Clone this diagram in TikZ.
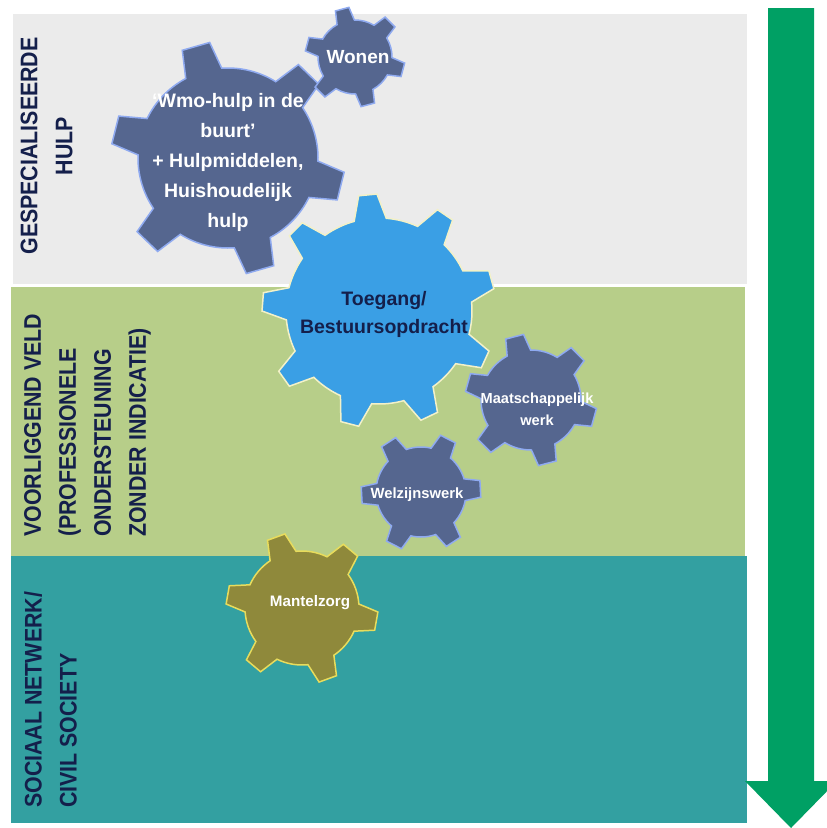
\documentclass[tikz,border=0pt]{standalone}
\usepackage{fontspec}
\setmainfont{Liberation Sans}
\usepackage{tikz}
\usetikzlibrary{calc}

\definecolor{bandgrey}{HTML}{EBEBEB}
\definecolor{bandgreen}{HTML}{B7CE89}
\definecolor{bandteal}{HTML}{33A0A1}
\definecolor{slate}{HTML}{55668F}
\definecolor{gearblue}{HTML}{3A9FE5}
\definecolor{olive}{HTML}{8F893B}
\definecolor{navy}{HTML}{141F4B}
\definecolor{arrowgreen}{HTML}{00A064}
\definecolor{glowblue}{HTML}{8FAAF0}
\definecolor{glowcream}{HTML}{F3F1C8}
\definecolor{glowyellow}{HTML}{E8DC5C}

% gear: centre, teeth, inner r, outer r, first tooth, half base, half tip, style
\newcommand{\drawgear}[8]{
  \pgfmathtruncatemacro{\lastk}{#2-1}
  \begin{scope}[shift={(#1)}]
  \draw [#8] ({#5-#6}:#3)
    \foreach \k in {0,...,\lastk}{
      -- ({#5+\k*360/#2-#7}:#4) -- ({#5+\k*360/#2+#7}:#4)
      -- ({#5+\k*360/#2+#6}:#3)
      arc [start angle={#5+\k*360/#2+#6}, end angle={#5+(\k+1)*360/#2-#6}, radius=#3]
    } -- cycle;
  \end{scope}
}

\begin{document}
\begin{tikzpicture}[x=1pt,y=1pt]
\tikzstyle{every node}+=[inner sep=0pt]
\tikzstyle{slategear}=[fill=slate, draw=glowblue, line width=1.5pt, line join=miter]
\tikzstyle{geartext}=[text=white, align=center]
\tikzstyle{bandlabel}=[text=navy, rotate=90, xscale=0.89, font=\bfseries\fontsize{24}{35}\selectfont]
\useasboundingbox (0,0) rectangle (827,-828);
\clip (0,0) rectangle (827,-828);
% bands
\fill [bandgrey] (13,-14) rectangle (747,-284);
\fill [bandgreen] (11,-287) rectangle (745,-556);
\fill [bandteal] (11,-556) rectangle (747,-823);
% arrow
\fill [arrowgreen] (768,-8) -- (814,-8) -- (814,-781) -- (837,-781) -- (791,-828)
  -- (745,-781) -- (768,-781) -- cycle;
% gears
\drawgear{228,-158}{6}{90}{117}{-14}{12}{7}{slategear}
\drawgear{355,-57}{6}{37}{50}{-15}{14}{8}{slategear}
\drawgear{379,-311}{9}{93}{117}{15.5}{10}{4.5}{fill=gearblue, draw=glowcream, line width=1.5pt}
\drawgear{531,-400}{6}{50}{66}{-15.5}{14}{8}{slategear}
\drawgear{421,-492}{6}{45}{60}{3}{14}{8}{slategear}
\drawgear{302,-608}{6}{57}{76}{-10}{14}{7}{fill=olive, draw=glowyellow, line width=1.5pt}
% gear labels
\node [geartext, font=\bfseries\fontsize{19.5}{30}\selectfont] (wmo) at (228,-162)
  {‘Wmo-hulp in de\\buurt’\\+ Hulpmiddelen,\\Huishoudelijk\\hulp};
\node [geartext, font=\bfseries\fontsize{19}{24}\selectfont] (wonen) at (358,-57) {Wonen};
\node [geartext, text=navy, font=\bfseries\fontsize{19.5}{28}\selectfont] (toegang) at (384,-314)
  {Toegang/\\Bestuursopdracht};
\node [geartext, font=\bfseries\fontsize{14.6}{22}\selectfont] (maatschappelijk) at (537,-409)
  {Maatschappelijk\\werk};
\node [geartext, font=\bfseries\fontsize{14.8}{20}\selectfont] (welzijn) at (417,-495) {Welzijnswerk};
\node [geartext, font=\bfseries\fontsize{15.2}{20}\selectfont] (mantelzorg) at (310,-603) {Mantelzorg};
% band labels
\node [bandlabel, align=center] (gespecialiseerd) at (46.5,-146) {GESPECIALISEERDE\\HULP};
\node [bandlabel, align=left, anchor=north west] (voorliggend) at (24,-537)
  {VOORLIGGEND VELD\\(PROFESSIONELE\\ONDERSTEUNING\\ZONDER INDICATIE)};
\node [bandlabel, align=left, anchor=north west] (sociaal) at (24,-808)
  {SOCIAAL NETWERK/\\CIVIL SOCIETY};
\end{tikzpicture}
\end{document}
